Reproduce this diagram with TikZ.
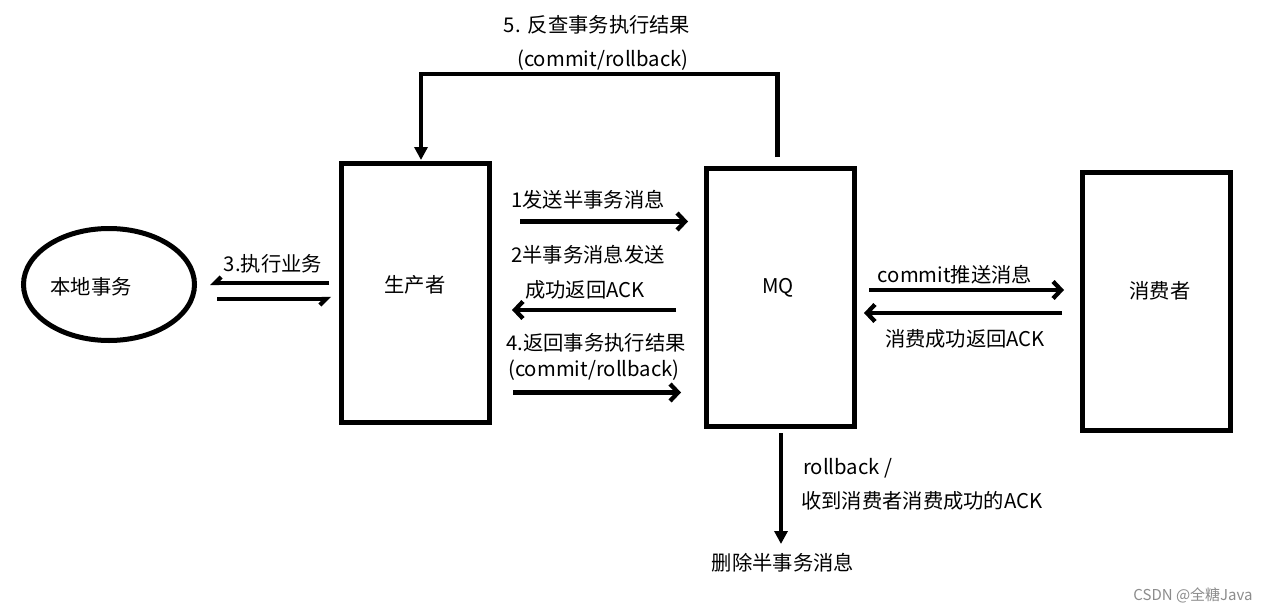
\documentclass[tikz,border=0pt]{standalone}
\usepackage{fontspec}
\setmainfont{Noto Sans CJK SC}
\usetikzlibrary{arrows.meta,shapes.geometric}
\begin{document}
\begin{tikzpicture}[x=1pt,y=-1pt,
  box/.style={draw, line width=5pt, inner sep=0pt, outer sep=0pt, rectangle},
  lbl/.style={font=\fontsize{20.3}{23}\selectfont, inner sep=0pt},
  arr/.style={line width=4.3pt, -{Straight Barb[length=8pt,width=17pt]}},
  harp/.style={line width=4.3pt, -{Straight Barb[harpoon,swap,length=6pt,width=12pt]}},
  downarr/.style={line width=4.3pt, -{Triangle[length=13pt,width=13pt]}}
]
\useasboundingbox[fill=white] (0,0) rectangle (1269,613);

% shapes
\node[ellipse, draw, line width=5pt, inner sep=0pt, outer sep=0pt,
      minimum width=171pt, minimum height=112pt] (local) at (109,284.5) {};
\node[box, minimum width=148pt, minimum height=259pt] (producer) at (415.5,293) {};
\node[box, minimum width=148pt, minimum height=258pt] (mq) at (780.5,297.5) {};
\node[box, minimum width=148pt, minimum height=258pt] (consumer) at (1156.5,301.5) {};

% box texts
\node[lbl] (tlocal) at (91,287) {本地事务};
\node[lbl] (tprod) at (415,285) {生产者};
\node[lbl] (tmq) at (778,288) {MQ};
\node[lbl] (tcons) at (1160,291) {消费者};

% connector endpoints
\coordinate (c5s) at (777.5,157);
\coordinate (c5e) at (421,160);
\coordinate (c1s) at (520,221.5);
\coordinate (c1e) at (688,221.5);
\coordinate (c2s) at (676,310);
\coordinate (c2e) at (512,310);
\coordinate (c4s) at (513,392.5);
\coordinate (c4e) at (681,392.5);
\coordinate (c3as) at (329,283);
\coordinate (c3ae) at (210,283);
\coordinate (c3bs) at (217,299);
\coordinate (c3be) at (331,299);
\coordinate (cps) at (869,290);
\coordinate (cpe) at (1064,290);
\coordinate (cas) at (1062,313);
\coordinate (cae) at (864,313);
\coordinate (cds) at (781,433);
\coordinate (cde) at (781,544);

% connectors
\draw[downarr] (c5s) -- (c5s |- 0,74) -- (c5e |- 0,74) -- (c5e);
\draw[arr] (c1s) -- (c1e);
\draw[arr] (c2s) -- (c2e);
\draw[arr] (c4s) -- (c4e);
\draw[harp] (c3as) -- (c3ae);
\draw[harp] (c3bs) -- (c3be);
\draw[arr] (cps) -- (cpe);
\draw[arr] (cas) -- (cae);
\draw[downarr] (cds) -- (cde);

% labels
\node[lbl] (l5a) at (597,25) {5.\hspace{0.35em}反查事务执行结果};
\node[lbl] (l5b) at (603,60) {(commit/rollback)};
\node[lbl] (l1) at (588,200) {1发送半事务消息};
\node[lbl] (l2a) at (588,255) {2半事务消息发送};
\node[lbl] (l2b) at (585,290) {成功返回ACK};
\node[lbl] (l4a) at (596,343) {4.返回事务执行结果};
\node[lbl] (l4b) at (594,370) {(commit/rollback)};
\node[lbl] (l3) at (273,264) {3.执行业务};
\node[lbl] (lp) at (955,275) {commit推送消息};
\node[lbl] (la) at (965,339) {消费成功返回ACK};
\node[lbl, anchor=west] (lr1) at (803,468) {rollback /};
\node[lbl, anchor=west] (lr2) at (801,501) {收到消费者消费成功的ACK};
\node[lbl] (ldel) at (783,563) {删除半事务消息};
\node[font=\fontsize{15}{17}\selectfont, text=black!45, inner sep=0pt] (wm) at (1193,595) {CSDN @全糖Java};
\end{tikzpicture}
\end{document}
